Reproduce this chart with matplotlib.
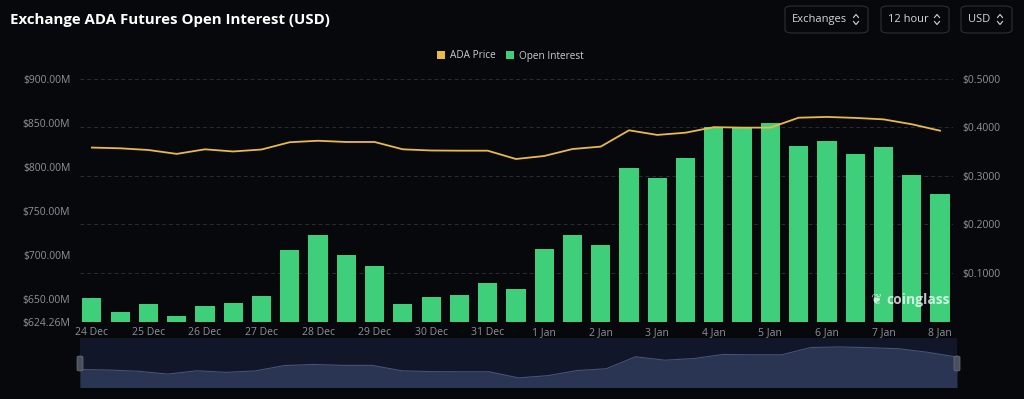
import matplotlib
matplotlib.use("Agg")
import matplotlib.pyplot as plt
from matplotlib.patches import FancyBboxPatch, Patch
import numpy as np

plt.rcParams["font.family"] = ["Open Sans", "DejaVu Sans"]

# Data (12 hour intervals, 24 Dec -> 8 Jan)
day_labels = ["24 Dec", "25 Dec", "26 Dec", "27 Dec", "28 Dec", "29 Dec", "30 Dec", "31 Dec",
              "1 Jan", "2 Jan", "3 Jan", "4 Jan", "5 Jan", "6 Jan", "7 Jan", "8 Jan"]
open_interest = [651, 635, 644, 630.5, 641.7, 645.4, 653.4, 705.1,
                 722.2, 699.5, 687.4, 644, 651.9, 654.5, 667.8, 661.3,
                 706.6, 722.5, 710.8, 798, 786.7, 810, 845.2, 844.5,
                 849.7, 823.6, 828.9, 813.9, 822.5, 790.8, 768.9]
ada_price = [0.358, 0.3565, 0.353, 0.345, 0.3544, 0.350, 0.354, 0.369,
             0.372, 0.3695, 0.3695, 0.3544, 0.352, 0.3516, 0.3516, 0.3345,
             0.3407, 0.355, 0.360, 0.3935, 0.384, 0.3886, 0.400, 0.399,
             0.399, 0.4194, 0.421, 0.419, 0.416, 0.406, 0.3927]
oi_ticks = [624.26, 650, 700, 750, 800, 850, 900]
price_ticks = [0.1, 0.2, 0.3, 0.4, 0.5]

BG = "#07080c"
GREEN = "#3fcf7b"
GOLD = "#e9b949"
TICK = "#8d929b"

fig = plt.figure(figsize=(10.24, 3.99), dpi=100)
fig.patch.set_facecolor(BG)

x = np.arange(len(open_interest))
rect = [80 / 1024, 77.3 / 399, 873 / 1024, 243.2 / 399]

# background axis: grid + right price labels
ax_bg = fig.add_axes(rect)
ax_bg.set_facecolor(BG)
ax_bg.set_ylim(0, 0.5)
ax_bg.set_xlim(-0.42, 30.46)
ax_bg.grid(True, axis="y", linestyle=(0, (4, 3)), color="#2b2d33", linewidth=0.7)
for s in ax_bg.spines.values():
    s.set_visible(False)
ax_bg.set_xticks(np.arange(0, 31, 2))
ax_bg.set_xticklabels(day_labels)
ax_bg.tick_params(axis="x", length=0, pad=4, labelsize=7.5, labelcolor=TICK)

# bars: open interest
ax = ax_bg.twinx()
ax.bar(x, open_interest, width=0.68, color=GREEN, bottom=0)
ax.set_ylim(oi_ticks[0], 900)
ax.set_yticks(oi_ticks)
ax.set_yticklabels([f"${v:.2f}M" for v in oi_ticks])
ax.yaxis.tick_left()
ax.tick_params(axis="y", length=0, pad=7, labelsize=7.5, labelcolor=TICK)
for s in ax.spines.values():
    s.set_visible(False)

# line: price
ax_line = ax_bg.twinx()
ax_line.plot(x, ada_price, color=GOLD, linewidth=1.3, solid_joinstyle="round")
ax_line.set_ylim(0, 0.5)
ax_line.set_yticks([])
for s in ax_line.spines.values():
    s.set_visible(False)

# price labels on the right (after twinx, which moves ticks)
ax_bg.set_yticks(price_ticks)
ax_bg.set_yticklabels([f"${v:.4f}" for v in price_ticks])
ax_bg.yaxis.tick_right()
ax_bg.tick_params(axis="y", length=0, pad=7, labelsize=7.5, labelcolor=TICK)

# watermark
fig.text(0.866, 0.248, "coinglass", color="white", alpha=0.75, fontsize=10,
         fontweight="bold", va="center", ha="left")
fig.text(0.855, 0.248, "\u2766", color="white", alpha=0.7, fontsize=10, va="center", ha="center")

# title
fig.text(10 / 1024, 1 - 20 / 399, "Exchange ADA Futures Open Interest (USD)", color="white",
         fontsize=10.8, fontweight="bold", va="center", ha="left")

# legend
handles = [Patch(facecolor=GOLD), Patch(facecolor=GREEN)]
fig.legend(handles, ["ADA Price", "Open Interest"], loc="center", bbox_to_anchor=(0.498, 1 - 56 / 399),
           ncol=2, frameon=False, fontsize=7.2, labelcolor="#c9ccd2", handlelength=0.8,
           handleheight=0.8, handletextpad=0.5, columnspacing=1.0)

# dropdown buttons
buttons = [("Exchanges", 785, 868), ("12 hour", 881, 949), ("USD", 961, 1012)]
for label, x0, x1 in buttons:
    fx0, fx1 = x0 / 1024, x1 / 1024
    fy0, fy1 = 1 - 33 / 399, 1 - 6 / 399
    fig.patches.append(FancyBboxPatch((fx0, fy0), fx1 - fx0, fy1 - fy0,
                                      boxstyle="round,pad=0,rounding_size=0.008",
                                      transform=fig.transFigure, facecolor=BG,
                                      edgecolor="#2c2f36", linewidth=0.8))
    fig.text(fx0 + 7 / 1024, (fy0 + fy1) / 2, label, color="#d4d6da", fontsize=8,
             va="center", ha="left")
    cx = fx1 - 12 / 1024
    cy = (fy0 + fy1) / 2
    for sgn in (1, -1):
        fig.lines.append(plt.Line2D([cx - 2.5 / 1024, cx, cx + 2.5 / 1024],
                                    [cy + sgn * 2 / 399, cy + sgn * 5 / 399, cy + sgn * 2 / 399],
                                    transform=fig.transFigure, color="#d4d6da", linewidth=0.8))

# navigator
ax_nav = fig.add_axes([80 / 1024, 12 / 399, 877 / 1024, 49 / 399])
ax_nav.set_facecolor("#111729")
ax_nav.fill_between(x, ada_price, 0, color="#2a3453", linewidth=0)
ax_nav.plot(x, ada_price, color="#485274", linewidth=0.8)
ax_nav.set_xlim(0, 30)
ax_nav.set_ylim(0.309, 0.446)
ax_nav.set_xticks([])
ax_nav.set_yticks([])
for s in ax_nav.spines.values():
    s.set_visible(False)
for hx in (80, 957):
    fig.patches.append(FancyBboxPatch(((hx - 3) / 1024, 1 - 371 / 399), 6 / 1024, 15 / 399,
                                      boxstyle="round,pad=0,rounding_size=0.003",
                                      transform=fig.transFigure, facecolor="#4a4f5c",
                                      edgecolor="#6b707c", linewidth=0.5))

fig.savefig("out.png", dpi=100, facecolor=BG)
